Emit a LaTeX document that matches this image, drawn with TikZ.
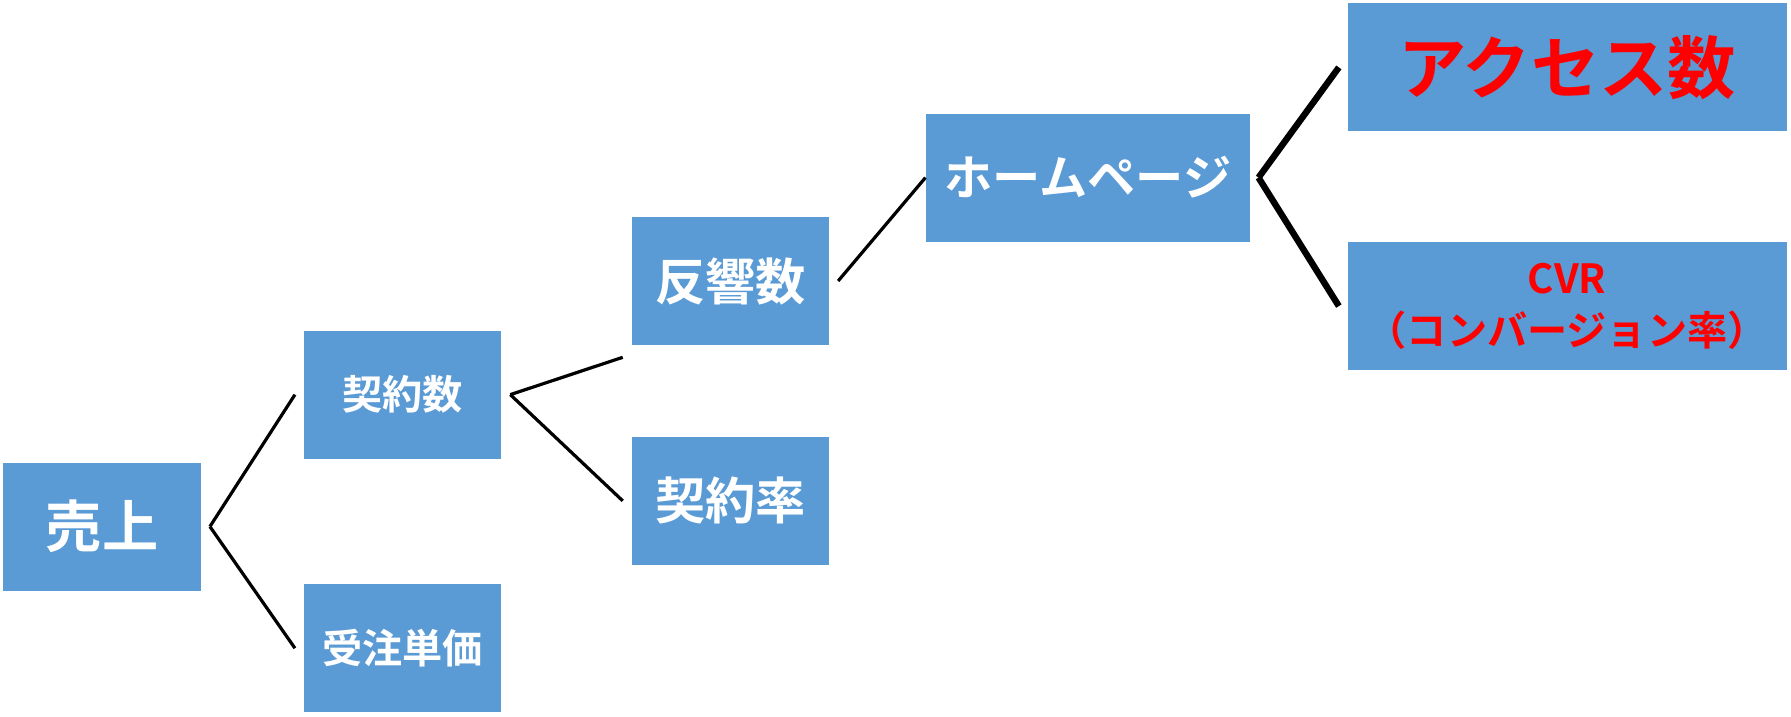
\documentclass[tikz,border=0pt]{standalone}
\usepackage{fontspec}
\newfontfamily\jp{Noto Sans CJK JP}[BoldFont={Noto Sans CJK JP Bold}]
\definecolor{boxblue}{RGB}{91,155,213}
\definecolor{hotred}{RGB}{255,0,0}
\tikzset{
  item/.style={fill=boxblue, minimum width=1.73cm, minimum height=1.12cm,
    inner sep=0pt, text=white, font=\jp\bfseries, align=center},
  link/.style={draw=black, line width=0.8pt},
  boldlink/.style={draw=black, line width=1.6pt}
}
\begin{document}
\begin{tikzpicture}[x=0.01cm, y=-0.01cm]
  \useasboundingbox (0,0) rectangle (1568,627);

  \node[item, font=\jp\bfseries\fontsize{14}{16}\selectfont] (sales) at (89.5,461) {売上};
  \node[item, font=\jp\bfseries\fontsize{10}{12}\selectfont] (contracts) at (352.5,345.5) {契約数};
  \node[item, font=\jp\bfseries\fontsize{10}{12}\selectfont] (price) at (352.5,567.5) {受注単価};
  \node[item, font=\jp\bfseries\fontsize{12.5}{14}\selectfont] (responses) at (639.5,246) {反響数};
  \node[item, font=\jp\bfseries\fontsize{12.5}{14}\selectfont] (rate) at (639.5,438.5) {契約率};
  \node[item, minimum width=2.83cm, font=\jp\bfseries\fontsize{12}{14}\selectfont] (home) at (952.5,155.5) {ホームページ};
  \node[item, minimum width=3.84cm, text=hotred, font=\jp\bfseries\fontsize{17}{20}\selectfont] (access) at (1372,59) {アクセス数};
  \node[item, minimum width=3.84cm, text=hotred, font=\jp\bfseries\fontsize{10}{13}\selectfont] (cvr) at (1372,268) {CVR\\（コンバージョン率）};

  \draw[link] ([xshift=2]sales.east) -- ([xshift=-2]contracts.west);
  \draw[link] ([xshift=2]sales.east) -- ([xshift=-2]price.west);
  \draw[link] ([xshift=2]contracts.east) -- ([xshift=-2,yshift=-19]responses.west);
  \draw[link] ([xshift=2]contracts.east) -- ([xshift=-2]rate.west);
  \draw[link] ([xshift=2]responses.east) -- (home.west);
  \draw[boldlink] ([xshift=2]home.east) -- ([xshift=-2]access.west);
  \draw[boldlink] ([xshift=2]home.east) -- ([xshift=-2]cvr.west);
\end{tikzpicture}
\end{document}
